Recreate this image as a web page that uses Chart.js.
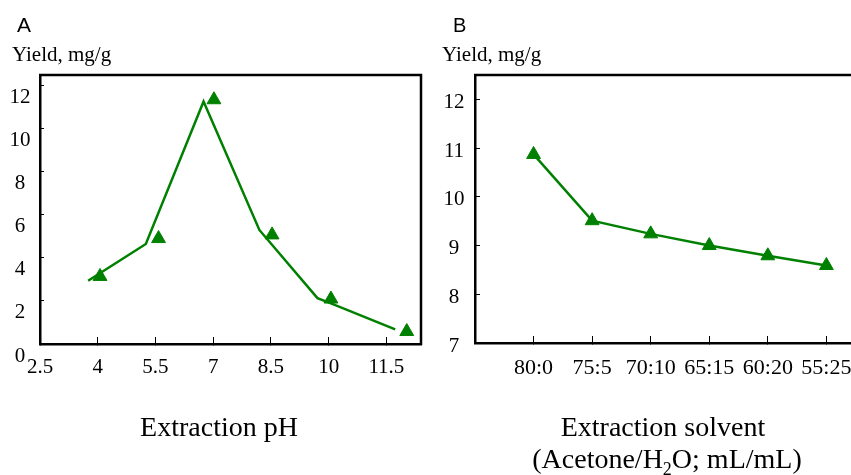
<!DOCTYPE html>
<html>
<head>
<meta charset="utf-8">
<script src="https://cdn.jsdelivr.net/npm/chart.js@4.4.1/dist/chart.umd.min.js"></script>
<style>
  body { margin: 0; background: #fff; }
  #wrap { position: relative; width: 851px; height: 475px; overflow: hidden; }
  canvas { position: absolute; top: 0; }
  .lbl { position: absolute; line-height: 1; white-space: nowrap; color: #000; }
  .serif { font-family: "Liberation Serif", "Times New Roman", serif; }
  .sans { font-family: "Liberation Sans", Arial, sans-serif; }
  .center { text-align: center; }
</style>
</head>
<body>
<div id="wrap">
  <canvas id="chartA" width="425" height="475" style="left:0"></canvas>
  <canvas id="chartB" width="426" height="475" style="left:425px"></canvas>

  <div class="lbl sans" style="left:17px; top:14px; font-size:21px;">A</div>
  <div class="lbl sans" style="left:453px; top:15px; font-size:20px;">B</div>
  <div class="lbl serif" style="left:12px; top:44px; font-size:21px;">Yield, mg/g</div>
  <div class="lbl serif" style="left:442px; top:44px; font-size:21px;">Yield, mg/g</div>

  <div class="lbl serif center" style="left:69px; width:300px; top:413px; font-size:28px;">Extraction pH</div>
  <div class="lbl serif center" style="left:513px; width:300px; top:413px; font-size:28px;">Extraction solvent</div>
  <div class="lbl serif center" style="left:517px; width:300px; top:445px; font-size:28px;">(Acetone/H<sub style="font-size:18px; line-height:0;">2</sub>O; mL/mL)</div>
</div>

<script>
// Panel A: yield vs extraction pH
const phTicks = [2.5, 4, 5.5, 7, 8.5, 10, 11.5];
const phMarkerX = [4.06, 5.58, 7.02, 8.53, 10.06, 12.03];
const phMarkerYield = [3.14, 4.9, 11.35, 5.07, 2.09, 0.58];
const phLineX = [3.75, 5.25, 6.75, 8.2, 9.71, 10.06, 11.73];
const phLineYield = [2.94, 4.65, 11.27, 5.3, 2.13, 1.89, 0.68];
const yieldTicksA = [0, 2, 4, 6, 8, 10, 12];

// Panel B: yield vs extraction solvent
const solventLabels = ['80:0', '75:5', '70:10', '65:15', '60:20', '55:25'];
const solventYield = [10.87, 9.51, 9.24, 9.0, 8.79, 8.59];
const yieldTicksB = [7, 8, 9, 10, 11, 12];

const green = '#008000';
const tickFont = { family: '"Liberation Serif", "Times New Roman", serif', size: 21 };

// draws the top (and optionally right) frame lines
function framePlugin(drawRight) {
    return {
        id: 'frame',
        afterDraw(chart) {
            const { ctx, chartArea: a } = chart;
            ctx.save();
            ctx.strokeStyle = '#000';
            ctx.lineWidth = 2.5;
            ctx.beginPath();
            ctx.moveTo(a.left - 1, a.top);
            ctx.lineTo(drawRight ? a.right : chart.width, a.top);
            if (drawRight) ctx.lineTo(a.right, a.bottom + 1);
            ctx.stroke();
            ctx.restore();
        }
    };
}

function pairs(xs, ys) {
    return xs.map((x, i) => ({ x: x, y: ys[i] }));
}

Chart.defaults.font.family = tickFont.family;
Chart.defaults.color = '#000';

new Chart(document.getElementById('chartA'), {
    type: 'scatter',
    data: {
        datasets: [
            {
                data: pairs(phLineX, phLineYield),
                showLine: true,
                borderColor: green,
                borderWidth: 2.5,
                pointRadius: 0,
                tension: 0
            },
            {
                data: pairs(phMarkerX, phMarkerYield),
                showLine: false,
                pointStyle: 'triangle',
                pointRadius: 8,
                backgroundColor: green,
                borderColor: green,
                borderWidth: 1
            }
        ]
    },
    options: {
        responsive: false,
        animation: false,
        devicePixelRatio: 1,
        clip: false,
        layout: { autoPadding: false, padding: { left: 0, top: 75, right: 4, bottom: 91 } },
        plugins: { legend: { display: false }, tooltip: { enabled: false } },
        scales: {
            x: {
                type: 'linear',
                min: 2.5,
                max: 12.4,
                afterBuildTicks: s => { s.ticks = phTicks.map(v => ({ value: v })); },
                afterFit: s => { s.height = 40; s.paddingLeft = 0; s.paddingRight = 0; },
                ticks: { font: tickFont, padding: 18, maxRotation: 0, callback: v => String(v) },
                grid: { drawOnChartArea: false, drawTicks: true, tickLength: -7, color: '#000', lineWidth: 1 },
                border: { display: true, color: '#000', width: 2.5 }
            },
            y: {
                min: 0,
                max: 12.5,
                afterBuildTicks: s => { s.ticks = yieldTicksA.map(v => ({ value: v })); },
                afterFit: s => { s.width = 40; s.paddingTop = 0; s.paddingBottom = 0; },
                ticks: { font: tickFont, padding: 13.5, crossAlign: 'center', labelOffset: 12, callback: v => String(v) },
                grid: { drawOnChartArea: false, drawTicks: true, tickLength: -4, color: '#000', lineWidth: 1 },
                border: { display: true, color: '#000', width: 2.5 }
            }
        }
    },
    plugins: [framePlugin(true)]
});

new Chart(document.getElementById('chartB'), {
    type: 'scatter',
    data: {
        datasets: [
            {
                data: solventYield.map((v, i) => ({ x: i, y: v })),
                showLine: true,
                borderColor: green,
                borderWidth: 2.5,
                pointStyle: 'triangle',
                pointRadius: 8,
                backgroundColor: green,
                pointBorderColor: green,
                pointBorderWidth: 1,
                tension: 0
            }
        ]
    },
    options: {
        responsive: false,
        animation: false,
        devicePixelRatio: 1,
        clip: false,
        layout: { autoPadding: false, padding: { left: 0, top: 75, right: 0, bottom: 92 } },
        plugins: { legend: { display: false }, tooltip: { enabled: false } },
        scales: {
            x: {
                type: 'linear',
                min: -1,
                max: 5.42,
                afterBuildTicks: s => { s.ticks = solventLabels.map((_, i) => ({ value: i })); },
                afterFit: s => { s.height = 40; s.paddingLeft = 0; s.paddingRight = 0; },
                ticks: {
                    font: { family: tickFont.family, size: 22 },
                    padding: 19,
                    maxRotation: 0,
                    autoSkip: false,
                    callback: v => solventLabels[v]
                },
                grid: { drawOnChartArea: false, drawTicks: true, tickLength: -7, color: '#000', lineWidth: 1 },
                border: { display: true, color: '#000', width: 2.5 }
            },
            y: {
                min: 7,
                max: 12.5,
                afterBuildTicks: s => { s.ticks = yieldTicksB.map(v => ({ value: v })); },
                afterFit: s => { s.width = 50; s.paddingTop = 0; s.paddingBottom = 0; },
                ticks: { font: tickFont, padding: 15.5, crossAlign: 'center', labelOffset: 3, callback: v => String(v) },
                grid: { drawOnChartArea: false, drawTicks: true, tickLength: -5, color: '#000', lineWidth: 1 },
                border: { display: true, color: '#000', width: 2.5 }
            }
        }
    },
    plugins: [framePlugin(false)]
});
</script>
</body>
</html>
